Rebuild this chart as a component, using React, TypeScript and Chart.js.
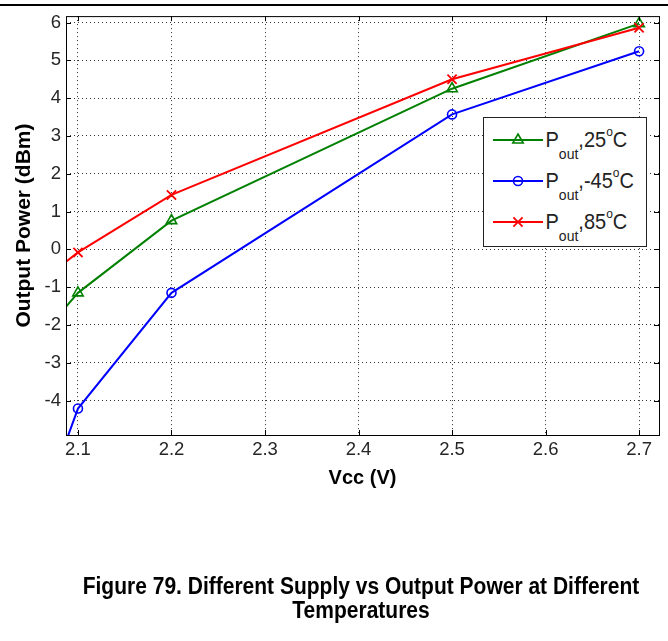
import React, { useEffect, useRef } from "react";
import { Chart, registerables } from "chart.js";

Chart.register(...registerables);

// ---- data ----
const vcc = [2.0, 2.1, 2.2, 2.5, 2.7];
const pout25 = [-4.04, -1.15, 0.76, 4.25, 5.97];
const poutM45 = [-11.0, -4.21, -1.15, 3.57, 5.24];
const pout85 = [-2.03, -0.08, 1.44, 4.5, 5.86];
const seriesTemps = ["25", "-45", "85"];
const xTickValues = [2.1, 2.2, 2.3, 2.4, 2.5, 2.6, 2.7];
const yTickValues = [-4, -3, -2, -1, 0, 1, 2, 3, 4, 5, 6];
const xLimits = [2.0872, 2.7213];
const yLimits = [-4.91, 6.17];
const xTitle = "Vcc (V)";
const yTitle = "Output Power (dBm)";
const captionLines = [
  "Figure 79. Different Supply vs Output Power at Different",
  "Temperatures",
];

const GREEN = "#008000";
const BLUE = "#0000ff";
const RED = "#ff0000";
const FONT = "'Liberation Sans', Arial, Helvetica, sans-serif";

const framePlugin = {
  id: "frame",
  afterDraw(chart: any) {
    const { ctx, chartArea: a, scales } = chart;
    ctx.save();
    ctx.strokeStyle = "#000";
    ctx.lineWidth = 1;
    ctx.setLineDash([]);
    ctx.strokeRect(a.left + 0.5, a.top + 0.5, a.right - a.left, a.bottom - a.top);
    const L = 5;
    ctx.beginPath();
    for (const v of xTickValues) {
      const x = Math.round(scales.x.getPixelForValue(v)) + 0.5;
      ctx.moveTo(x, a.bottom);
      ctx.lineTo(x, a.bottom - L);
      ctx.moveTo(x, a.top);
      ctx.lineTo(x, a.top + L);
    }
    for (const v of yTickValues) {
      const y = Math.round(scales.y.getPixelForValue(v)) + 0.5;
      ctx.moveTo(a.left, y);
      ctx.lineTo(a.left + L, y);
      ctx.moveTo(a.right, y);
      ctx.lineTo(a.right - L, y);
    }
    ctx.stroke();
    ctx.restore();
  },
};

function toPoints(ys: number[]) {
  return vcc.map((x, i) => ({ x, y: ys[i] }));
}

function LegendMarker({ kind, color }: { kind: string; color: string }) {
  const cx = 25;
  const cy = 10;
  let mark: any = null;
  if (kind === "triangle") {
    const r = 6;
    const pts = [
      [cx, cy - r],
      [cx + r * 0.866, cy + r * 0.5],
      [cx - r * 0.866, cy + r * 0.5],
    ]
      .map((p) => p.join(","))
      .join(" ");
    mark = <polygon points={pts} fill="none" stroke={color} strokeWidth={1.6} />;
  } else if (kind === "circle") {
    mark = <circle cx={cx} cy={cy} r={4.5} fill="none" stroke={color} strokeWidth={1.6} />;
  } else {
    const d = 4.6;
    mark = (
      <g stroke={color} strokeWidth={1.8}>
        <line x1={cx - d} y1={cy - d} x2={cx + d} y2={cy + d} />
        <line x1={cx - d} y1={cy + d} x2={cx + d} y2={cy - d} />
      </g>
    );
  }
  return (
    <svg width={50} height={20} style={{ position: "absolute", left: 0, top: 0 }}>
      <line x1={0} y1={cy} x2={50} y2={cy} stroke={color} strokeWidth={2} />
      {mark}
    </svg>
  );
}

export default function App() {
  const ref = useRef<HTMLCanvasElement>(null);

  useEffect(() => {
    if (!ref.current) return;
    const gridCommon = {
      color: "rgba(0,0,0,0.8)",
      lineWidth: 1,
      drawTicks: false,
      borderDash: [1, 3],
    };
    const tickFont = { family: FONT, size: 18.5 };
    const chart = new Chart(ref.current, {
      type: "line",
      data: {
        datasets: [
          {
            label: "Pout,25°C",
            data: toPoints(pout25),
            borderColor: GREEN,
            backgroundColor: "transparent",
            borderWidth: 2,
            pointStyle: "triangle",
            pointRadius: 6,
            pointHoverRadius: 6,
            pointBorderWidth: 1.6,
            pointBorderColor: GREEN,
            pointBackgroundColor: "rgba(0,0,0,0)",
            order: 2,
          },
          {
            label: "Pout,-45°C",
            data: toPoints(poutM45),
            borderColor: BLUE,
            backgroundColor: "transparent",
            borderWidth: 2,
            pointStyle: "circle",
            pointRadius: 4.5,
            pointHoverRadius: 4.5,
            pointBorderWidth: 1.6,
            pointBorderColor: BLUE,
            pointBackgroundColor: "rgba(0,0,0,0)",
            order: 1,
          },
          {
            label: "Pout,85°C",
            data: toPoints(pout85),
            borderColor: RED,
            backgroundColor: "transparent",
            borderWidth: 2,
            pointStyle: "crossRot",
            pointRadius: 6.5,
            pointHoverRadius: 6.5,
            pointBorderWidth: 1.8,
            pointBorderColor: RED,
            pointBackgroundColor: "rgba(0,0,0,0)",
            order: 0,
          },
        ],
      },
      options: {
        responsive: false,
        devicePixelRatio: 1,
        animation: false,
        events: [],
        layout: { padding: { left: 0, top: 16, right: 9, bottom: 151 } },
        plugins: {
          legend: { display: false },
          tooltip: { enabled: false },
        },
        scales: {
          x: {
            type: "linear",
            min: xLimits[0],
            max: xLimits[1],
            afterBuildTicks: (s: any) => {
              s.ticks = xTickValues.map((v) => ({ value: v }));
            },
            afterFit: (s: any) => {
              s.height = 55;
            },
            ticks: {
              autoSkip: false,
              maxRotation: 0,
              padding: 4,
              color: "#262626",
              font: tickFont,
              callback: (v: any) => Number(v).toFixed(1),
            },
            grid: gridCommon,
            border: { display: false, dash: [1, 3] },
            title: {
              display: true,
              text: xTitle,
              color: "#000",
              font: { family: FONT, size: 20, weight: "bold" },
              padding: { top: 0, bottom: 0 },
            },
          },
          y: {
            type: "linear",
            min: yLimits[0],
            max: yLimits[1],
            afterBuildTicks: (s: any) => {
              s.ticks = yTickValues.map((v) => ({ value: v }));
            },
            afterFit: (s: any) => {
              s.width = 66;
            },
            ticks: {
              autoSkip: false,
              padding: 5,
              color: "#262626",
              font: tickFont,
              callback: (v: any) => String(Math.round(Number(v))),
            },
            grid: gridCommon,
            border: { display: false, dash: [1, 3] },
            title: {
              display: true,
              text: yTitle,
              color: "#000",
              font: { family: FONT, size: 21, weight: "bold" },
              padding: { top: 11.5, bottom: 0 },
            },
          },
        },
      } as any,
      plugins: [framePlugin],
    });
    return () => chart.destroy();
  }, []);

  const legendColors = [GREEN, BLUE, RED];
  const legendMarkers = ["triangle", "circle", "cross"];
  const rowCenters = [22, 63, 104.3];

  return (
    <div
      style={{
        position: "absolute",
        left: 0,
        top: 0,
        width: 668,
        height: 641,
        background: "#fff",
        overflow: "hidden",
        fontFamily: FONT,
      }}
    >
      <div style={{ position: "absolute", left: 0, top: 4, width: 668, height: 1.5, background: "#000" }} />
      <canvas
        ref={ref}
        width={668}
        height={641}
        style={{ position: "absolute", left: 0, top: 0, width: 668, height: 641 }}
      />
      <div
        style={{
          position: "absolute",
          left: 483,
          top: 117,
          width: 164,
          height: 130,
          boxSizing: "border-box",
          border: "1px solid #222",
          background: "#fff",
        }}
      >
        {seriesTemps.map((t, i) => (
          <React.Fragment key={t}>
            <div style={{ position: "absolute", left: 9, top: rowCenters[i] - 10, width: 50, height: 20 }}>
              <LegendMarker kind={legendMarkers[i]} color={legendColors[i]} />
            </div>
            <div
              style={{
                position: "absolute",
                left: 61.5,
                top: rowCenters[i] - 10.2,
                fontSize: 20,
                lineHeight: "20px",
                color: "#222",
                whiteSpace: "nowrap",
                transform: "scaleY(1.1)",
                transformOrigin: "left 17px",
              }}
            >
              P
              <span style={{ fontSize: 14, position: "relative", top: 11 }}>out</span>
              ,{t}
              <span style={{ fontSize: 12, position: "relative", top: -10 }}>o</span>C
            </div>
          </React.Fragment>
        ))}
      </div>
      {captionLines.map((line, i) => (
        <div
          key={i}
          style={{
            position: "absolute",
            left: 61,
            top: 576 + i * 23.5,
            width: 600,
            textAlign: "center",
            fontSize: 21,
            lineHeight: "21px",
            fontWeight: "bold",
            color: "#000",
            whiteSpace: "nowrap",
            transform: "scaleY(1.1)",
            transformOrigin: "center 17px",
          }}
        >
          {line}
        </div>
      ))}
    </div>
  );
}
